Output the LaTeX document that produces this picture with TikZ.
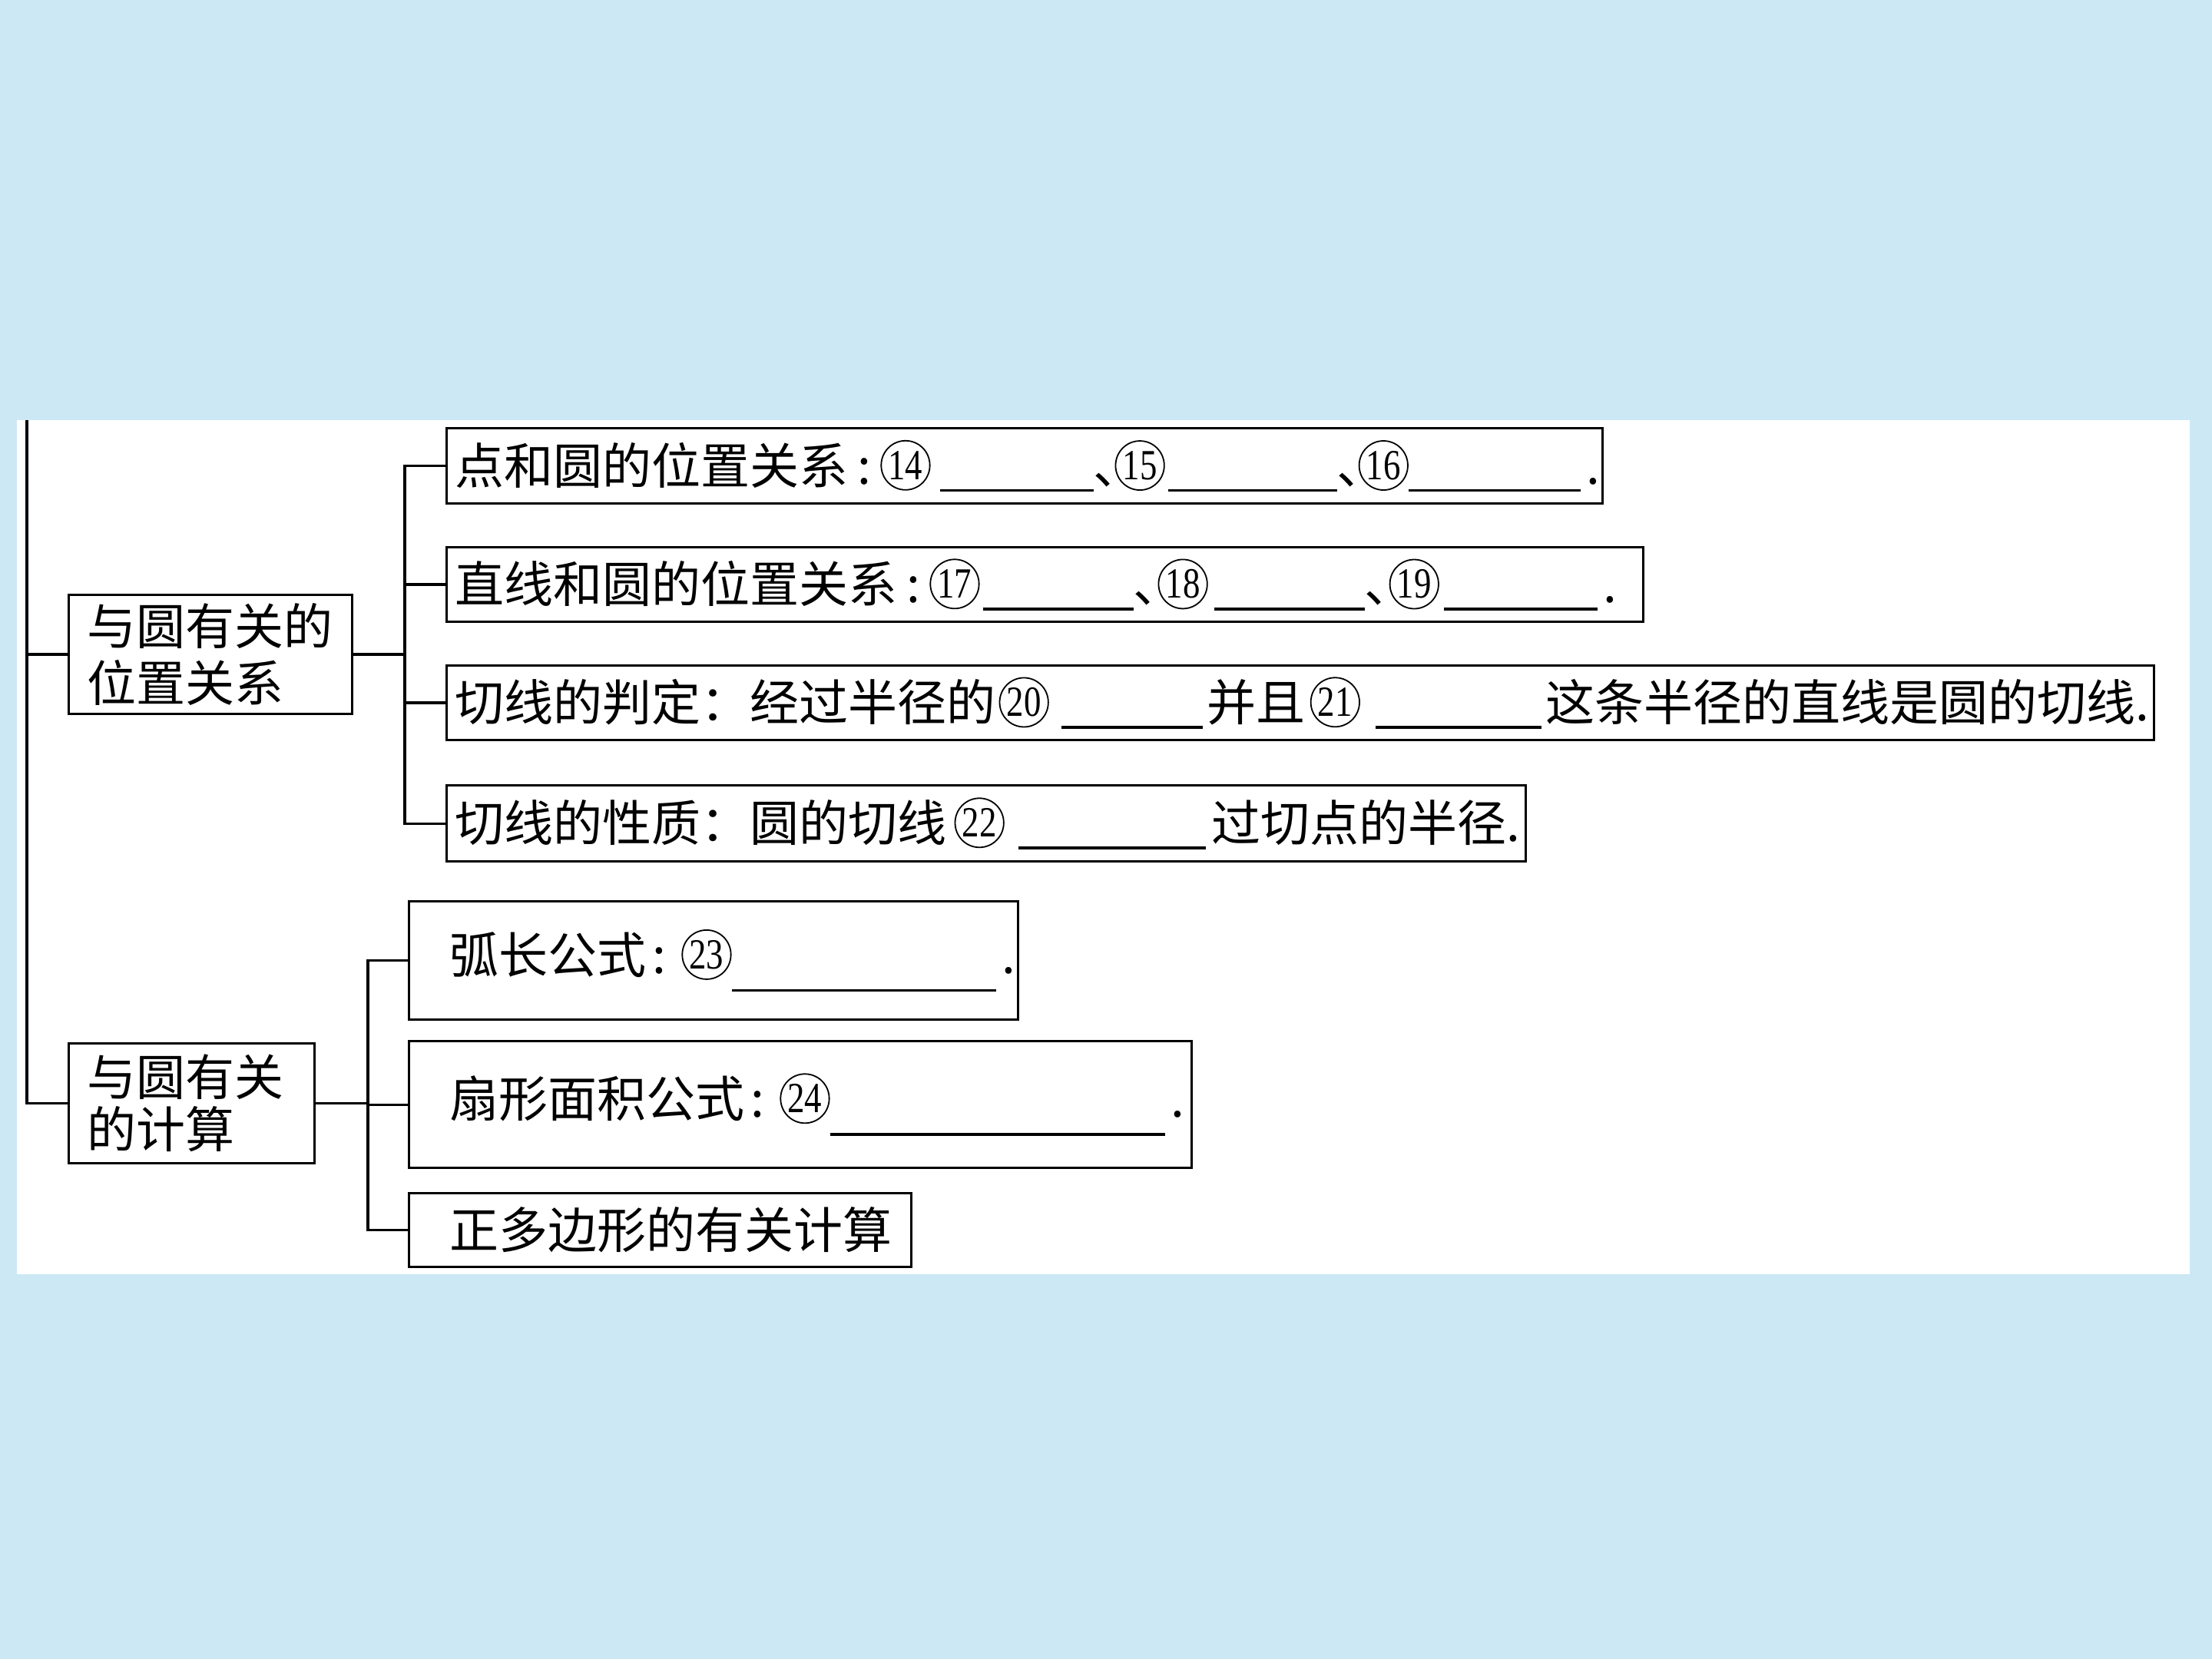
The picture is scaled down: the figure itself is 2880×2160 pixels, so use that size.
\documentclass[tikz,border=0pt]{standalone}
\usepackage{fontspec}
\setmainfont{Noto Sans CJK SC}
\newfontfamily\numfont{Liberation Serif}
\usetikzlibrary{shapes.geometric}
\definecolor{bgblue}{RGB}{204,232,245}
\tikzset{
  box/.style={draw, line width=0.8pt, rectangle, inner xsep=0pt, inner ysep=0pt,
    anchor=north west, align=left, font=\fontsize{16}{18.4}\selectfont},
  cnum/.style={draw, shape=ellipse, line width=0.45pt, inner sep=0pt,
    minimum width=15pt, minimum height=16pt, text width={}, anchor=center,
    font=\numfont\fontsize{14}{14}\selectfont},
  conn/.style={line width=0.8pt},
}
\newcommand\cn[1]{\tikz[baseline={([yshift=-1.5pt]cc.base)}]\node[cnum](cc){\scalebox{0.8}[1]{#1}};}
\newcommand\blank[1]{\rule[-2.5pt]{#1}{0.9pt}}
\newcommand\blankd[1]{\rule[-6pt]{#1}{0.9pt}}
\begin{document}
\begin{tikzpicture}[x=0.25pt,y=-0.25pt]
\fill[bgblue] (0,0) rectangle (2880,2160);
\useasboundingbox (0,0) rectangle (2880,2160);
\fill[white] (22,547) rectangle (2851,1659);

\node[box, minimum width=92.25pt, text width=92.25pt, minimum height=38.75pt] (A) at (88,773)
  {\hspace*{6pt}与圆有关的\\\hspace*{6pt}位置关系};
\node[box, minimum width=80pt, text width=80pt, minimum height=39pt, font=\fontsize{16}{17}\selectfont] (C) at (88,1357)
  {\hspace*{6pt}与圆有关\\\hspace*{6pt}的计算};

\node[box, minimum width=376.25pt, text width=376.25pt, minimum height=24.5pt] (B1) at (580,556)
  {\mbox{\hspace*{2.75pt}点和圆的位置关系\hspace{3pt}:\hspace{3pt}\cn{14}\hspace{3pt}\blank{50pt}\makebox[7pt][l]{、}\cn{15}\hspace{1pt}\blank{55pt}\makebox[7pt][l]{、}\cn{16}\blank{56pt}\hspace{2pt}.}};
\node[box, minimum width=389.5pt, text width=389.5pt, minimum height=24.25pt] (B2) at (580,711)
  {\mbox{\hspace*{2.75pt}直线和圆的位置关系\hspace{3pt}:\hspace{3pt}\cn{17}\hspace{1pt}\blank{49pt}\makebox[8pt][l]{、}\cn{18}\hspace{2pt}\blank{49pt}\makebox[8pt][l]{、}\cn{19}\hspace{1.5pt}\blank{50pt}\hspace{2pt}.}};
\node[box, minimum width=555.75pt, text width=555.75pt, minimum height=24.25pt] (B3) at (580,865)
  {\mbox{\hspace*{2.75pt}切线的判定：经过半径的\hspace{1pt}\cn{20}\hspace{4pt}\blank{46pt}\hspace{1.5pt}并且\hspace{1.5pt}\cn{21}\hspace{5pt}\blank{54pt}\hspace{1.5pt}这条半径的直线是圆的切线.}};
\node[box, minimum width=351.25pt, text width=351.25pt, minimum height=24.75pt] (B4) at (580,1021)
  {\mbox{\hspace*{2.75pt}切线的性质：圆的切线\hspace{2.5pt}\cn{22}\hspace{4.5pt}\blank{61pt}\hspace{2pt}过切点的半径.}};

\node[box, minimum width=198.25pt, text width=198.25pt, minimum height=38.5pt] (D1) at (531,1172)
  {\mbox{\hspace*{13.25pt}弧长公式\hspace{2pt}:\hspace{5pt}\cn{23}\blankd{86pt}\hspace{2pt}.}};
\node[box, minimum width=254.75pt, text width=254.75pt, minimum height=41.25pt] (D2) at (531,1354)
  {\mbox{\hspace*{13.25pt}扇形面积公式\hspace{2pt}:\hspace{5pt}\cn{24}\blankd{109pt}\hspace{2pt}.}};
\node[box, minimum width=163.5pt, text width=163.5pt, minimum height=24pt] (D3) at (531,1552)
  {\mbox{\hspace*{13.25pt}正多边形的有关计算}};

\coordinate (T) at (35,547);
\coordinate (busA) at (527,0);
\coordinate (busC) at (479,0);
\draw[conn] (T) |- (C.west);
\draw[conn] (T |- A.west) -- (A.west);
\draw[conn] (A.east) -- (busA |- A.east);
\draw[conn] (B1.west) -- (busA |- B1.west) -- (busA |- B4.west) -- (B4.west);
\draw[conn] (busA |- B2.west) -- (B2.west);
\draw[conn] (busA |- B3.west) -- (B3.west);
\draw[conn] (C.east) -- (busC |- C.east);
\draw[conn] (D1.west) -- (busC |- D1.west) -- (busC |- D3.west) -- (D3.west);
\draw[conn] (busC |- D2.west) -- (D2.west);
\end{tikzpicture}
\end{document}
